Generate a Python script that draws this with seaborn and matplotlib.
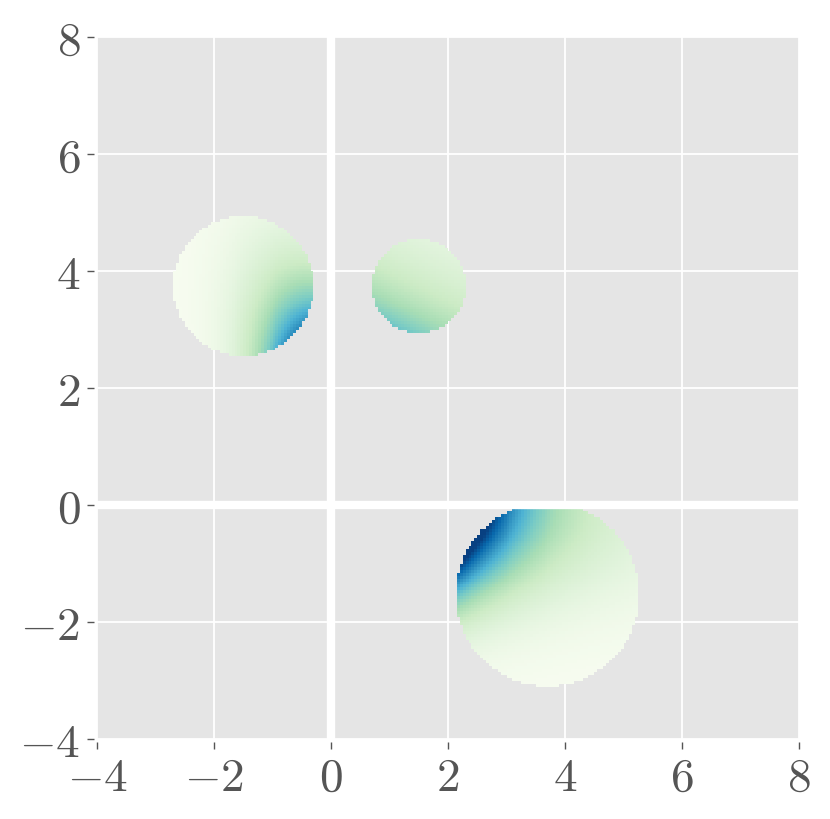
import numpy as np
import matplotlib
matplotlib.use('Agg')
import matplotlib.pyplot as plt
import seaborn as sns

# circles (center x, center y, radius)
circle_x = [-1.5, 1.5, 3.7]
circle_y = [3.75, 3.75, -1.52]
circle_r = [1.2, 0.8, 1.57]

# colour level inside each circle, log(value) as a quadratic in (x - cx, y - cy)
# (fitted by eye to colours)
log_level = [-1.95, -1.399, -1.85]
slope_x = [1.830, -0.411, -0.714]
slope_y = [-0.583, -0.869, 1.285]
curv_xx = [-0.801, 0.0, 0.070]
curv_xy = [-0.499, 0.0, -0.093]
curv_yy = [-0.207, 0.0, -0.400]

ticks = [-4, -2, 0, 2, 4, 6, 8]
tick_labels = ['$-4$', '$-2$', '$0$', '$2$', '$4$', '$6$', '$8$']

sns.set_style('darkgrid', {'axes.facecolor': '#E5E5E5', 'grid.color': 'white'})
plt.rcParams['mathtext.fontset'] = 'cm'

# cell grid for the image
step = 0.05
xs = np.arange(-4, 8 + step, step)
ys = np.arange(-4, 8 + step, step)
xc = (xs[:-1] + xs[1:]) / 2
yc = (ys[:-1] + ys[1:]) / 2
X, Y = np.meshgrid(xc, yc)

Z = np.full(X.shape, np.nan)
for i in range(len(circle_x)):
    u = X - circle_x[i]
    v = Y - circle_y[i]
    inside = u**2 + v**2 <= circle_r[i]**2
    L = (log_level[i] + slope_x[i] * u + slope_y[i] * v
         + curv_xx[i] * u * u + curv_xy[i] * u * v + curv_yy[i] * v * v)
    Z[inside] = np.exp(L[inside])
Z = np.ma.masked_invalid(np.clip(Z, 0, 1))

fig = plt.figure(figsize=(8.3, 8.19), dpi=100)
ax = fig.add_axes([0.1169, 0.0965, 0.8458, 0.8584])

cmap = sns.color_palette('GnBu', as_cmap=True)
ax.pcolormesh(xs, ys, Z, cmap=cmap, vmin=0, vmax=1, zorder=2)

ax.axhline(0, color='white', lw=6, zorder=3)
ax.axvline(0, color='white', lw=6, zorder=3)

ax.set_xlim(-4, 8)
ax.set_ylim(-4, 8)
ax.set_aspect('equal')
ax.grid(True, color='white', lw=1.3, zorder=1)
ax.set_axisbelow(True)

ax.set_xticks(ticks)
ax.set_yticks(ticks)
ax.set_xticklabels(tick_labels)
ax.set_yticklabels(tick_labels)
ax.tick_params(axis='both', which='major', length=5, width=1, color='#555555',
               labelcolor='#555555', labelsize=34, pad=5, direction='out',
               bottom=True, left=True)
for side in ['top', 'right']:
    ax.spines[side].set_visible(False)
for side in ['left', 'bottom']:
    ax.spines[side].set_position(('outward', 2))
    ax.spines[side].set_visible(False)

fig.savefig('out.png', dpi=100)
